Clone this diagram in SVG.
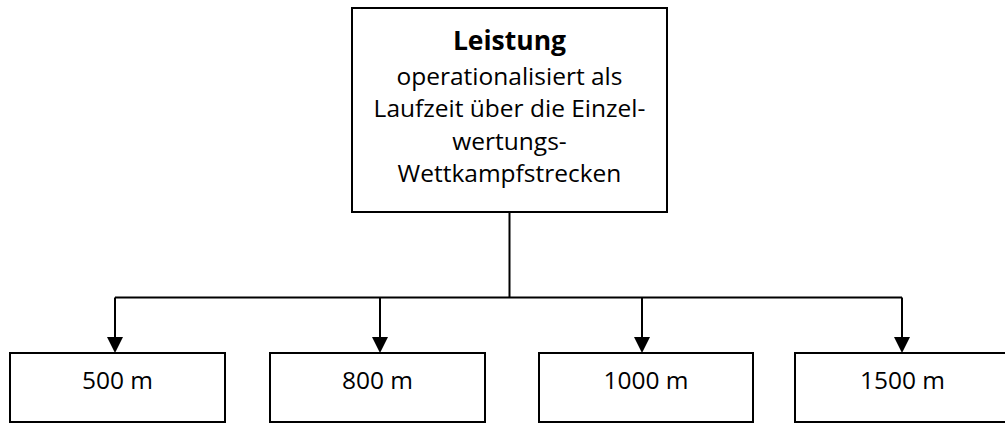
<svg xmlns="http://www.w3.org/2000/svg" width="1005" height="423" viewBox="0 0 1005 423">
  <style>
    .box { fill: #ffffff; stroke: #000000; stroke-width: 2; }
    .txt { font-family: "Open Sans", "Liberation Sans", sans-serif; font-size: 24.5px; fill: #000000; text-anchor: middle; }
    .title { font-weight: bold; font-size: 26.5px; }
    .conn { fill: none; stroke: #000000; stroke-width: 2; }
    .head { fill: #000000; }
  </style>

  <!-- connectors -->
  <g id="connectors">
    <path class="conn" d="M509.5,212 V297.5"/>
    <path class="conn" d="M115,297.5 H902"/>
    <path class="conn" d="M115,297.5 V337"/>
    <path class="conn" d="M380,297.5 V337"/>
    <path class="conn" d="M642,297.5 V337"/>
    <path class="conn" d="M902,297.5 V337"/>
    <path class="head" d="M107,337 H123 L115,353 Z"/>
    <path class="head" d="M372,337 H388 L380,353 Z"/>
    <path class="head" d="M634,337 H650 L642,353 Z"/>
    <path class="head" d="M894,337 H910 L902,353 Z"/>
  </g>

  <!-- root node -->
  <g id="leistung">
    <rect class="box" x="352" y="8" width="315" height="204"/>
    <text class="txt title" x="509.5" y="50">Leistung</text>
    <text class="txt" x="509.5" y="85">operationalisiert als</text>
    <text class="txt" x="509.5" y="117">Laufzeit über die Einzel-</text>
    <text class="txt" x="509.5" y="150">wertungs-</text>
    <text class="txt" x="509.5" y="182">Wettkampfstrecken</text>
  </g>

  <!-- distance nodes -->
  <g id="d500">
    <rect class="box" x="10" y="353" width="215" height="69"/>
    <text class="txt" x="117.5" y="389">500 m</text>
  </g>
  <g id="d800">
    <rect class="box" x="270" y="353" width="215" height="69"/>
    <text class="txt" x="377.5" y="389">800 m</text>
  </g>
  <g id="d1000">
    <rect class="box" x="539" y="353" width="214" height="69"/>
    <text class="txt" x="646" y="389">1000 m</text>
  </g>
  <g id="d1500">
    <rect class="box" x="795" y="353" width="215" height="69"/>
    <text class="txt" x="902.5" y="389">1500 m</text>
  </g>
</svg>
